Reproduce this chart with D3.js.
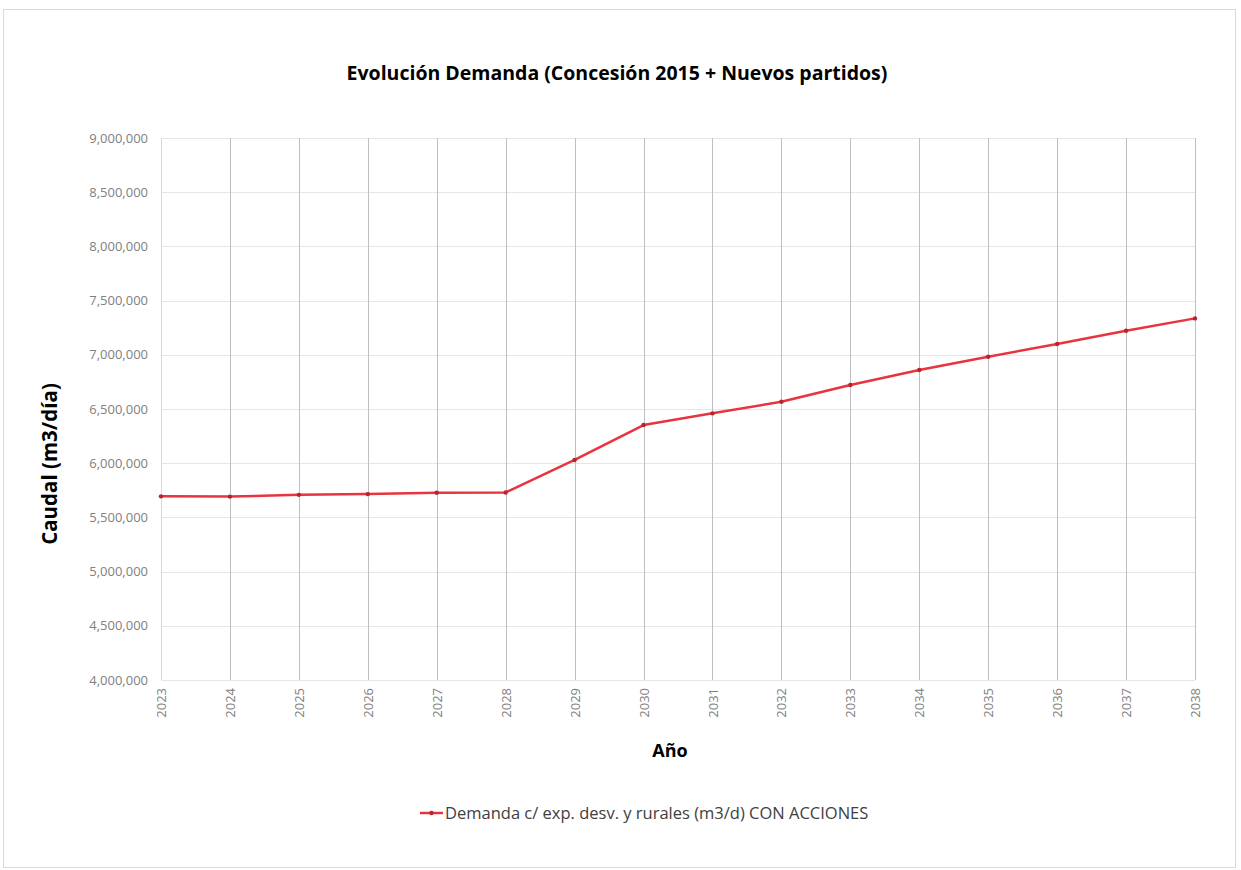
<!DOCTYPE html>
<html>
<head>
<meta charset="utf-8">
<script src="https://cdn.jsdelivr.net/npm/d3@7"></script>
<style>
	body { margin:0; background:#fff; }
	text { font-family: "Open Sans", "Liberation Sans", sans-serif; }
</style>
</head>
<body>
<svg id="chart" width="1241" height="870"></svg>
<script>
(function() {

	//DATA
	var years = ['2023','2024','2025','2026','2027','2028','2029','2030','2031','2032','2033','2034','2035','2036','2037','2038']
	var demanda = [5694000, 5692000, 5708000, 5715000, 5727000, 5730000, 6030000, 6352000, 6460000, 6567000, 6721000, 6860000, 6982000, 7100000, 7222000, 7336000]
	var yTicks = [4000000, 4500000, 5000000, 5500000, 6000000, 6500000, 7000000, 7500000, 8000000, 8500000, 9000000]

	var title = 'Evolución Demanda (Concesión 2015 + Nuevos partidos)'
	var yTitle = 'Caudal (m3/día)'
	var xTitle = 'Año'
	var seriesName = 'Demanda c/ exp. desv. y rurales (m3/d) CON ACCIONES'

	var lineColor = '#e8343e'
	var markerColor = '#b8242c'

	var margin = { top:138, bottom:190, left:161, right:46 }
	var W = 1241, H = 870
	var width = W - margin.left - margin.right
	var height = H - margin.top - margin.bottom

	var svg = d3.select('#chart')

	// chart border
	svg.append('rect')
		.attr('x', 3.5).attr('y', 9.5)
		.attr('width', 1232).attr('height', 858)
		.style('fill', '#fff')
		.style('stroke', '#d9d9d9')

	svg.append('text')
		.attr('x', 617).attr('y', 80)
		.attr('text-anchor', 'middle')
		.style('font-size', '19.5px')
		.style('font-weight', 'bold')
		.style('fill', '#000')
		.text(title)

	var g = svg.append('g')
		.attr('transform', 'translate(' + margin.left + ',' + margin.top + ')')

	var x = d3.scalePoint()
		.domain(years)
		.range([0, width])

	var y = d3.scaleLinear()
		.domain([4000000, 9000000])
		.range([height, 0])

	// horizontal grid
	g.append('g').attr('class', 'grid--y')
		.selectAll('line')
		.data(yTicks)
		.enter().append('line')
		.attr('x1', 0).attr('x2', width)
		.attr('y1', function(d) { return Math.round(y(d)) + 0.5 })
		.attr('y2', function(d) { return Math.round(y(d)) + 0.5 })
		.style('stroke', '#e6e6e6')

	// vertical grid (one per year)
	g.append('g').attr('class', 'grid--x')
		.selectAll('line')
		.data(years)
		.enter().append('line')
		.attr('x1', function(d) { return Math.round(x(d)) + 0.5 })
		.attr('x2', function(d) { return Math.round(x(d)) + 0.5 })
		.attr('y1', 0).attr('y2', height)
		.style('stroke', function(d, i) { return i === 0 ? '#d9d9d9' : '#bfbfbf' })

	// y axis labels
	var axisY = d3.axisLeft(y)
		.tickValues(yTicks)
		.tickFormat(d3.format(','))
		.tickSize(0)
		.tickPadding(13)

	g.append('g').attr('class', 'axis axis--y')
		.call(axisY)
		.call(function(a) { a.select('.domain').remove() })
		.selectAll('text')
		.style('font-size', '13px')
		.style('fill', '#808080')

	// x axis labels, rotated
	var axisX = d3.axisBottom(x).tickSize(0)

	g.append('g').attr('class', 'axis axis--x')
		.attr('transform', 'translate(0,' + height + ')')
		.call(axisX)
		.call(function(a) { a.select('.domain').remove() })
		.selectAll('text')
		.attr('transform', 'rotate(-90)')
		.attr('x', -8).attr('y', 0)
		.attr('dy', '0.35em')
		.style('text-anchor', 'end')
		.style('font-size', '13px')
		.style('fill', '#808080')

	// line
	var line = d3.line()
		.x(function(d, i) { return x(years[i]) })
		.y(function(d) { return y(d) })

	g.append('path')
		.datum(demanda)
		.attr('d', line)
		.style('fill', 'none')
		.style('stroke', lineColor)
		.style('stroke-width', 2.5)
		.style('stroke-linejoin', 'round')

	g.selectAll('.dot')
		.data(demanda)
		.enter().append('circle')
		.attr('class', 'dot')
		.attr('cx', function(d, i) { return x(years[i]) })
		.attr('cy', function(d) { return y(d) })
		.attr('r', 2.2)
		.style('fill', markerColor)

	// axis titles
	svg.append('text')
		.attr('transform', 'translate(57,464)rotate(-90)')
		.attr('text-anchor', 'middle')
		.style('font-size', '20.5px')
		.style('font-weight', 'bold')
		.style('fill', '#000')
		.text(yTitle)

	svg.append('text')
		.attr('x', 670).attr('y', 757)
		.attr('text-anchor', 'middle')
		.style('font-size', '18px')
		.style('font-weight', 'bold')
		.style('fill', '#000')
		.text(xTitle)

	// legend
	var leg = svg.append('g').attr('transform', 'translate(420,813)')
	leg.append('line')
		.attr('x1', 0).attr('x2', 23)
		.style('stroke', lineColor)
		.style('stroke-width', 2.5)
	leg.append('circle')
		.attr('cx', 11.5).attr('r', 2.2)
		.style('fill', markerColor)
	leg.append('text')
		.attr('x', 25).attr('dy', '0.35em')
		.style('font-size', '16.5px')
		.style('fill', '#404040')
		.text(seriesName)

})()
</script>
</body>
</html>
